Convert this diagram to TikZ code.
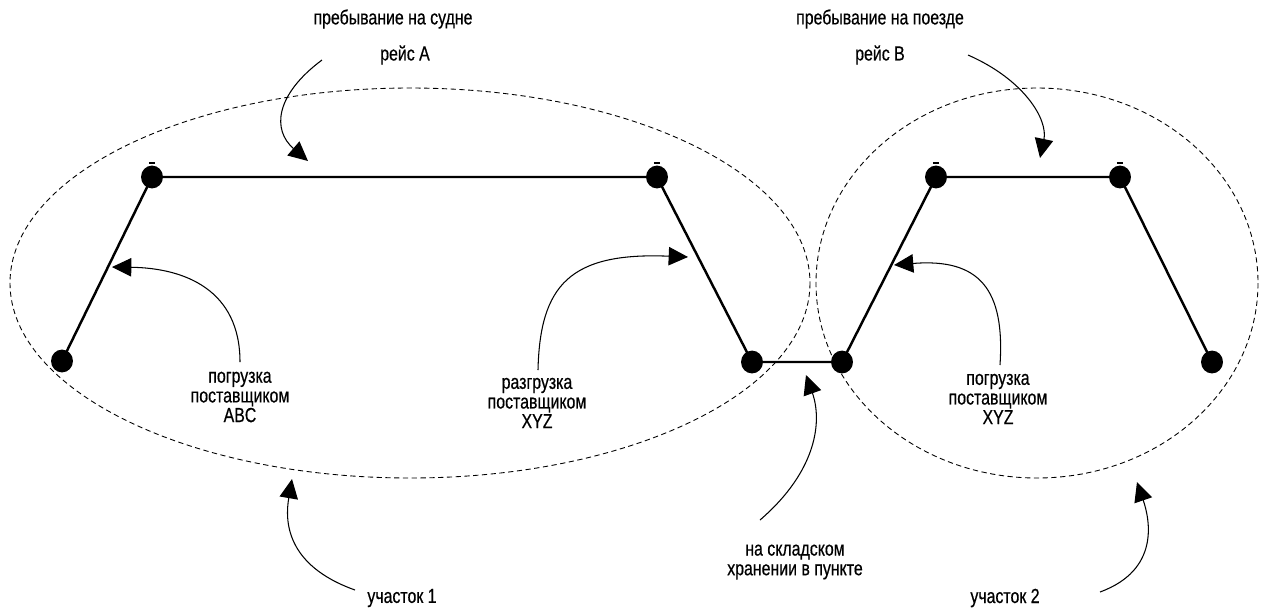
\documentclass[tikz,border=0pt]{standalone}
\usepackage{fontspec}
\setmainfont{Liberation Sans}[FakeStretch=0.78,FakeBold=0.5]
\usetikzlibrary{arrows.meta,shapes.geometric}
\begin{document}
\begin{tikzpicture}[x=0.02cm,y=-0.02cm,
  route/.style={line width=1.4pt},
  zone/.style={draw,line width=0.5pt,dash pattern=on 3pt off 2pt},
  callout/.style={line width=0.6pt,-{Triangle[length=11pt,width=10.5pt]}},
  ptdot/.style={ellipse,fill=black,inner sep=0pt,minimum width=12.5pt,minimum height=13pt},
  lbl/.style={font=\fontsize{11.6}{11.2}\selectfont,align=center,inner sep=0pt}]
\useasboundingbox (0,0) rectangle (1262,610);
% zones
\draw[zone] (410,283) ellipse [x radius=400, y radius=195];
\draw[zone] (1037,283) ellipse [x radius=221, y radius=195];
% route points
\foreach \n/\x/\y in {p1/62/361,p2/152/177,p3/657/177,p4/752/362,p5/842/362,p6/936/177,p7/1120/177,p8/1212/362}
  \node[ptdot] (\n) at (\x,\y) {};
\foreach \n in {p2,p3,p6,p7}
  \draw[line width=0.8pt] ([xshift=-1.8pt,yshift=8pt]\n.center) -- ([xshift=1.8pt,yshift=8pt]\n.center);
\draw[route] (p1.center) -- (p2.center) -- (p3.center) -- (p4.center) -- (p5.center) -- (p6.center) -- (p7.center) -- (p8.center);
% labels
\node[lbl] (tA) at (393,19) {пребывание на судне};
\node[lbl] (rA) at (405,55) {рейс А};
\node[lbl] (tB) at (880,19) {пребывание на поезде};
\node[lbl] (rB) at (880,55) {рейс В};
\node[lbl] (l1) at (240,397) {погрузка\\поставщиком\\ABC};
\node[lbl] (l2) at (537,403) {разгрузка\\поставщиком\\XYZ};
\node[lbl] (l3) at (998,399) {погрузка\\поставщиком\\XYZ};
\node[lbl] (l4) at (795,562) {на складском\\хранении в пункте};
\node[lbl] (u1) at (402,598) {участок 1};
\node[lbl] (u2) at (1005,598) {участок 2};
% arrow ends
\coordinate (sA) at (322,60);   \coordinate (eA) at (308,161);
\coordinate (sB) at (968,55);   \coordinate (eB) at (1040,158);
\coordinate (s1) at (240,362);  \coordinate (e1) at (112,267);
\coordinate (s2) at (538,370);  \coordinate (e2) at (688,257);
\coordinate (s3) at (1000,365); \coordinate (e3) at (894,265);
\coordinate (s4) at (760,520);  \coordinate (e4) at (806,375);
\coordinate (s5) at (355,590);  \coordinate (e5) at (292,479);
\coordinate (s6) at (1100,592); \coordinate (e6) at (1137,482);
\draw[callout] (sA) .. controls (275,95) and (272,130) .. (eA);
\draw[callout] (sB) .. controls (1025,80) and (1048,120) .. (eB);
\draw[callout] (s1) .. controls (240,290) and (185,268) .. (e1);
\draw[callout] (s2) .. controls (540,285) and (570,252) .. (e2);
\draw[callout] (s3) .. controls (1005,290) and (980,258) .. (e3);
\draw[callout] (s4) .. controls (818,470) and (822,420) .. (e4);
\draw[callout] (s5) .. controls (285,565) and (285,520) .. (e5);
\draw[callout] (s6) .. controls (1160,570) and (1150,520) .. (e6);
\end{tikzpicture}
\end{document}
